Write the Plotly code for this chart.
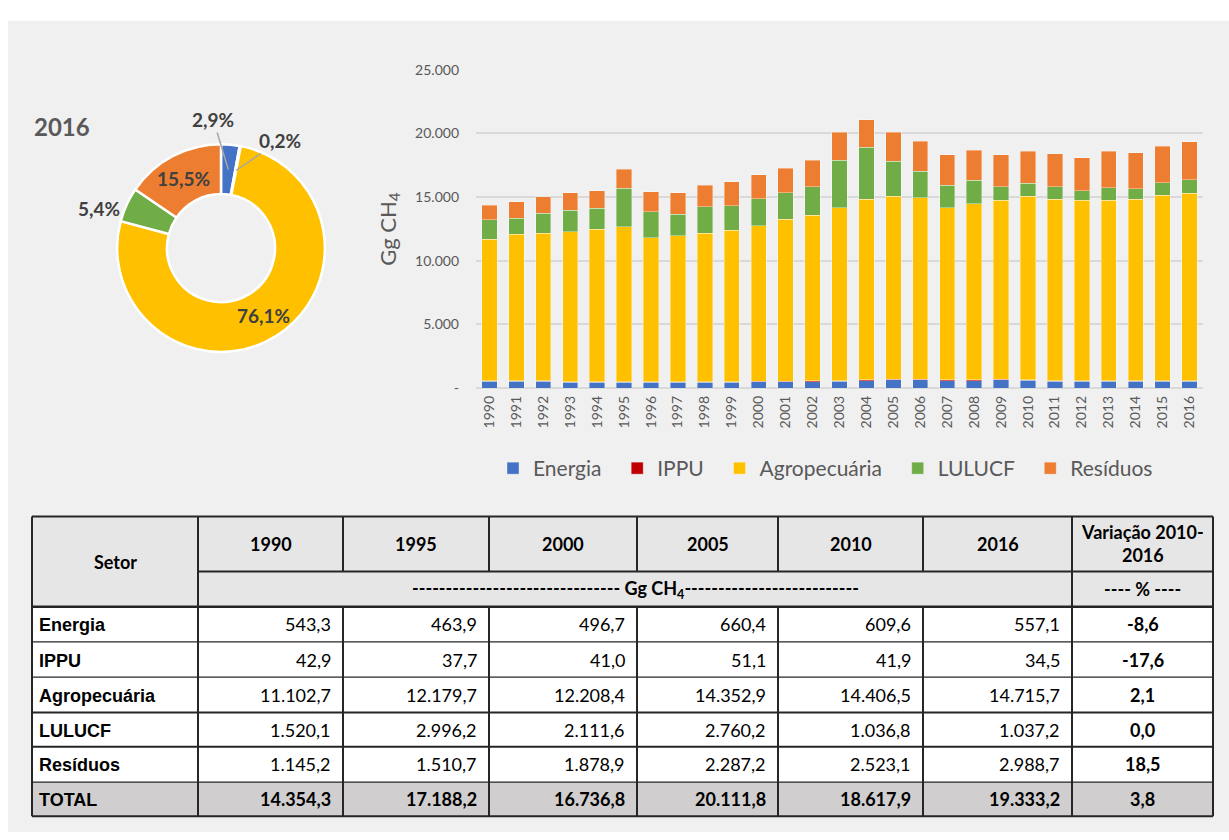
import math
import plotly.graph_objects as go

W, H = 1229, 840

# ---------------- data ----------------
years = list(range(1990, 2017))
sectors = ["Energia", "IPPU", "Agropecuária", "LULUCF", "Resíduos"]
colors = ["#4472C4", "#C00000", "#FFC000", "#70AD47", "#ED7D31"]

energia = [543.3, 540, 540, 470, 465, 463.9, 465, 465, 470, 480, 496.7, 490, 520, 530,
           600, 660.4, 650, 600, 600, 650, 609.6, 560, 560, 560, 560, 560, 557.1]
ippu = [42.9, 42, 42, 45, 40, 37.7, 38, 38, 38, 38, 41.0, 42, 44, 45,
        50, 51.1, 50, 50, 50, 45, 41.9, 40, 38, 37, 36, 35, 34.5]
agro = [11102.7, 11498, 11598, 11765, 11985, 12179.7, 11287, 11467, 11672, 11862, 12208.4,
        12728, 12996, 13575, 14200, 14352.9, 14250, 13500, 13810, 14045, 14406.5, 14250,
        14142, 14143, 14254, 14555, 14715.7]
lulucf = [1520.1, 1280, 1560, 1670, 1640, 2996.2, 2060, 1670, 2080, 1950, 2111.6, 2070,
          2260, 3750, 4050, 2760.2, 2080, 1800, 1870, 1080, 1036.8, 970, 770, 980, 790,
          980, 1037.2]
residuos = [1145.2, 1280, 1290, 1380, 1380, 1510.7, 1590, 1690, 1660, 1880, 1878.9, 1950,
            2080, 2180, 2180, 2287.2, 2350, 2360, 2360, 2490, 2523.1, 2590, 2590, 2870,
            2850, 2870, 2988.7]
series = [energia, ippu, agro, lulucf, residuos]

y_ticks = [0, 5000, 10000, 15000, 20000, 25000]

table_years = [1990, 1995, 2000, 2005, 2010, 2016]
totals = [14354.3, 17188.2, 16736.8, 20111.8, 18617.9, 19333.2]
variacao = [-8.6, -17.6, 2.1, 0.0, 18.5, 3.8]
pie_year = 2016


def br(v, dec=1):
    s = f"{v:,.{dec}f}"
    return s.replace(",", "X").replace(".", ",").replace("X", ".")


def px(x):
    return x / W


def py(y):
    return 1 - y / H


FONT = "Lato"
GRAY = "#595959"
DARK = "#404040"

fig = go.Figure()

# ---------------- stacked bars ----------------
for name, col, vals in zip(sectors, colors, series):
    fig.add_trace(go.Bar(
        x=[str(y) for y in years], y=vals, name=name + "\u00a0\u00a0",
        marker=dict(color=col, line=dict(color="rgba(255,255,255,0.6)", width=0.6)),
        xaxis="x", yaxis="y", hovertemplate=name + " %{x}: %{y}<extra></extra>"))

# ---------------- donut ----------------
PCX, PCY, PR = 221, 244, 106       # donut centre / radius in px
HOLE = 0.52
pi = years.index(pie_year)
pie_vals = [s[pi] for s in series]
fig.add_trace(go.Pie(
    values=pie_vals, labels=sectors, sort=False, direction="clockwise", rotation=0,
    hole=HOLE, marker=dict(colors=colors, line=dict(color="white", width=2.5)),
    textinfo="none",
    domain=dict(x=[px(PCX - PR), px(PCX + PR)], y=[py(PCY + PR), py(PCY - PR)]),
    showlegend=False))

annotations = []
shapes = []

# donut labels, placed from each slice's angle
tot = sum(pie_vals)
cum = 0.0
label_style = ["out_left_up", "out_right", "in", "out_left", "in"]
for v, style in zip(pie_vals, label_style):
    frac = v / tot
    mid = (cum + frac / 2) * 2 * math.pi
    cum += frac
    txt = br(100 * frac) + "%"
    rmid = PR * (1 + HOLE) / 2
    font = dict(family=FONT, size=19, color=DARK, weight="bold")
    if style == "in":
        x = PCX + rmid * math.sin(mid)
        y = PCY - rmid * math.cos(mid)
        annotations.append(dict(xref="paper", yref="paper", x=px(x), y=py(y), text=txt,
                                showarrow=False, xanchor="center", yanchor="middle",
                                font=font))
    elif style == "out_left":
        x = PCX + PR * math.sin(mid)
        y = PCY - PR * math.cos(mid)
        annotations.append(dict(xref="paper", yref="paper", x=px(x), y=py(y), text=txt,
                                showarrow=False, xanchor="right", yanchor="middle",
                                xshift=-3, yshift=-4, font=font))
    else:
        x = PCX + rmid * math.sin(mid)
        y = PCY - rmid * math.cos(mid)
        ax, ay = (-15, -50) if style == "out_left_up" else (44, -30)
        annotations.append(dict(xref="paper", yref="paper", x=px(x), y=py(y), text=txt,
                                showarrow=True, arrowhead=0, arrowwidth=1.5,
                                arrowcolor="#A6A6A6", ax=ax, ay=ay, standoff=0,
                                xanchor="center", yanchor="middle", font=font))

# donut title
annotations.append(dict(xref="paper", yref="paper", x=px(62), y=py(120), text=str(pie_year),
                        showarrow=False, xanchor="center", yanchor="middle",
                        font=dict(family=FONT, size=24, color=GRAY, weight="bold")))

# ---------------- table (merged header + body) ----------------
HB = "#E7E6E6"
TB = "#D0CECE"
LC = "#262626"
col_edges = [32, 198, 343, 489, 637, 778, 923, 1072, 1213]
row_edges = [518, 574, 610, 646, 682, 718, 753, 789, 824]
hline_w = [2, 2, 2.5, 1.2, 1.2, 2, 2, 1.2, 2]


def rect(x0, y0, x1, y1, fill):
    shapes.append(dict(type="rect", xref="paper", yref="paper",
                       x0=px(x0), x1=px(x1), y0=py(y1), y1=py(y0),
                       fillcolor=fill, line=dict(width=0), layer="above"))


def line(x0, y0, x1, y1, w):
    shapes.append(dict(type="line", xref="paper", yref="paper",
                       x0=px(x0), x1=px(x1), y0=py(y0), y1=py(y1),
                       line=dict(color=LC, width=w), layer="above"))


def text(x, y, t, size=18, family=FONT, bold=True, anchor="center"):
    annotations.append(dict(xref="paper", yref="paper", x=px(x), y=py(y), text=t,
                            showarrow=False, xanchor=anchor, yanchor="middle",
                            font=dict(family=family, size=size, color="black",
                                      weight="bold" if bold else "normal")))


# fills
rect(col_edges[0], row_edges[0], col_edges[-1], row_edges[2], HB)
rect(col_edges[0], row_edges[2], col_edges[-1], row_edges[7], "white")
rect(col_edges[0], row_edges[7], col_edges[-1], row_edges[8], TB)

# header text
text((col_edges[0] + col_edges[1]) / 2, (row_edges[0] + row_edges[2]) / 2, "Setor")
for k, yv in enumerate(table_years):
    text((col_edges[k + 1] + col_edges[k + 2]) / 2, (row_edges[0] + row_edges[1]) / 2, str(yv))
text((col_edges[1] + col_edges[7]) / 2, (row_edges[1] + row_edges[2]) / 2,
     "-" * 31 + " Gg CH<sub>4</sub>" + "-" * 26)
text((col_edges[7] + col_edges[8]) / 2, (row_edges[0] + row_edges[1]) / 2,
     "Variação 2010-<br>2016")
text((col_edges[7] + col_edges[8]) / 2, (row_edges[1] + row_edges[2]) / 2, "---- % ----")

# body text
idx = [years.index(y) for y in table_years]
row_names = sectors + ["TOTAL"]
for r, name in enumerate(row_names):
    yc = (row_edges[r + 2] + row_edges[r + 3]) / 2
    text(col_edges[0] + 5, yc + 1, name, size=18, family="Liberation Sans", bold=True,
         anchor="left")
    for k, i in enumerate(idx):
        val = totals[k] if name == "TOTAL" else series[r][i]
        text(col_edges[k + 2] - 10, yc, br(val), bold=(name == "TOTAL"), anchor="right")
    text((col_edges[7] + col_edges[8]) / 2, yc, br(variacao[r]), bold=True)

# grid lines
for r, yv in enumerate(row_edges):
    x0 = col_edges[1] if r == 1 else col_edges[0]
    line(x0, yv, col_edges[-1], yv, hline_w[r])
for c, xv in enumerate(col_edges):
    if c in (0, 1, 7, 8):
        line(xv, row_edges[0], xv, row_edges[-1], 2)
    else:
        line(xv, row_edges[0], xv, row_edges[1], 2)
        line(xv, row_edges[2], xv, row_edges[-1], 2)

# background panel
shapes.insert(0, dict(type="rect", xref="paper", yref="paper", x0=px(8), x1=1,
                      y0=0, y1=py(12), fillcolor="#F0F0F0", line=dict(width=0),
                      layer="below"))

fig.update_layout(
    width=W, height=H, margin=dict(l=0, r=0, t=0, b=0),
    paper_bgcolor="white", plot_bgcolor="white",
    separators=",.",
    barmode="stack", bargap=0.43,
    font=dict(family=FONT, color=GRAY),
    xaxis=dict(domain=[px(476), px(1203)], type="category", tickangle=-90,
               tickfont=dict(family=FONT, size=14, color=GRAY), showgrid=False,
               ticklabelstandoff=4, anchor="y"),
    yaxis=dict(domain=[py(387), py(62)], range=[0, 25000], tickvals=y_ticks,
               ticktext=["-"] + [br(v, 0) for v in y_ticks[1:]],
               tickfont=dict(family=FONT, size=14, color=GRAY),
               gridcolor="#D9D9D9", gridwidth=1.5, zeroline=True,
               zerolinecolor="#D9D9D9", zerolinewidth=1.5, ticklabelstandoff=16,
               title=dict(text="Gg CH<sub>4</sub>", font=dict(family=FONT, size=22, color=GRAY),
                          standoff=12), anchor="x"),
    legend=dict(orientation="h", x=px(831), xanchor="center", y=py(469), yanchor="middle",
                font=dict(family=FONT, size=21, color=GRAY), bgcolor="rgba(0,0,0,0)",
                traceorder="normal", itemwidth=30),
    shapes=shapes, annotations=annotations,
)

fig.write_html("out.html", config={"displayModeBar": False},
               post_script="document.body.style.margin='0px';")
